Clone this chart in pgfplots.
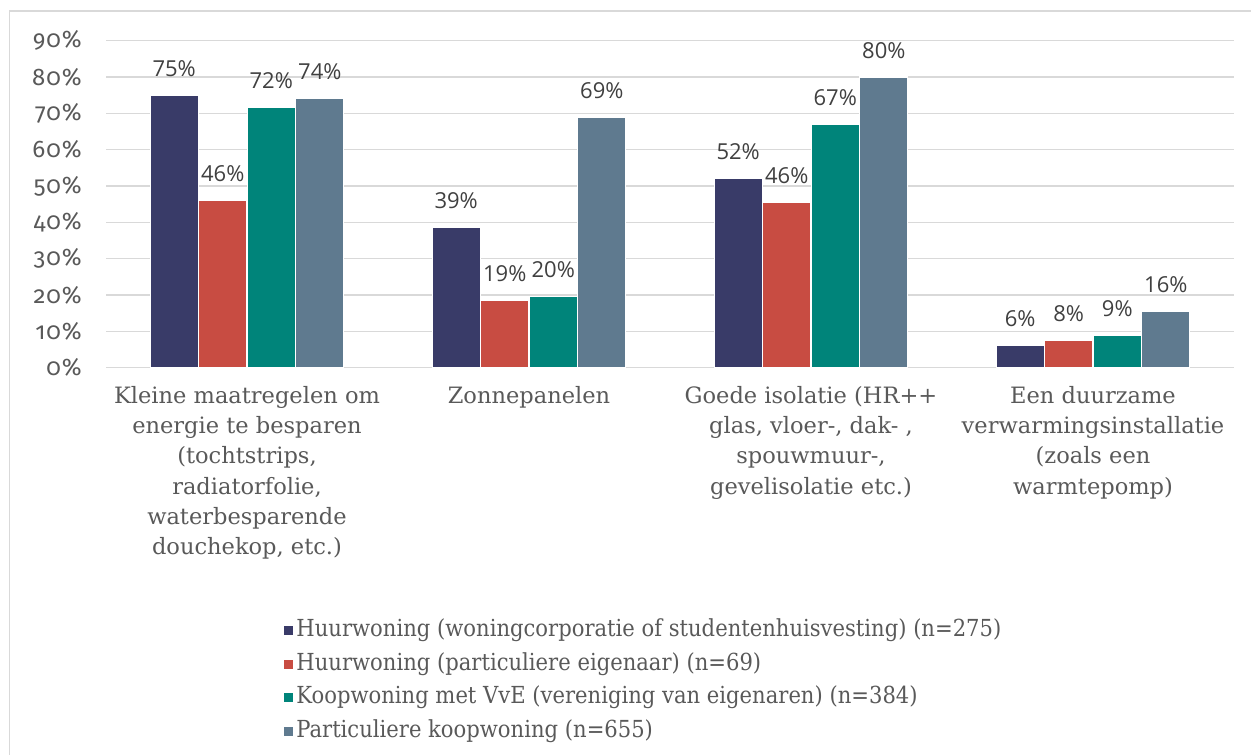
\documentclass[border=0pt]{standalone}
\usepackage{pgfplots}
\pgfplotsset{compat=1.18}
\usepackage{fontspec}
\setmainfont{DejaVu Serif}
\newfontfamily\tickfont[Numbers=OldStyle, LetterSpace=4]{Fira Sans}
\newfontfamily\labfont{Open Sans}
\newfontfamily\legfont{DejaVu Serif Condensed}
\definecolor{cNavy}{HTML}{393B68}
\definecolor{cRed}{HTML}{C84C42}
\definecolor{cTeal}{HTML}{00847A}
\definecolor{cSlate}{HTML}{5F7A8F}
\definecolor{txt}{HTML}{595959}
\definecolor{lab}{HTML}{404040}
\definecolor{gridc}{HTML}{D9D9D9}
\begin{document}
\begin{tikzpicture}
\useasboundingbox (0pt,0pt) rectangle (938.25pt,566.25pt);
\draw[gridc, line width=1.1pt] (7.1pt,0pt) -- (7.1pt,558pt) -- (938.25pt,558pt);
\begin{axis}[
  at={(79.5pt,290.5pt)}, anchor=south west,
  scale only axis, width=846pt, height=245.25pt,
  xmin=-0.5, xmax=3.5, ymin=0, ymax=90,
  clip=false,
  ybar=0.4pt, bar width=36pt,
  separate axis lines,
  axis x line*=bottom, axis y line*=left,
  y axis line style={draw=none},
  x axis line style={gridc, line width=1.1pt},
  ymajorgrids, grid style={gridc, line width=1.1pt},
  major tick length=0pt,
  ytick={0,10,20,30,40,50,60,70,80,90},
  yticklabels={0\%,10\%,20\%,30\%,40\%,50\%,60\%,70\%,80\%,90\%},
  yticklabel style={font=\tickfont\fontsize{18}{18}\selectfont, text=txt, anchor=east, inner sep=0pt, xshift=-18pt},
  xtick={0,1,2,3},
  xticklabels={{Kleine maatregelen om\\energie te besparen\\(tochtstrips,\\radiatorfolie,\\waterbesparende\\douchekop, etc.)},
               {Zonnepanelen},
               {Goede isolatie (HR++\\glas, vloer-, dak- ,\\spouwmuur-,\\gevelisolatie etc.)},
               {Een duurzame\\verwarmingsinstallatie\\(zoals een\\warmtepomp)}},
  xticklabel style={align=center, font=\fontsize{16.9}{22.6}\selectfont, text=txt, anchor=north, inner sep=0pt, yshift=-14pt},
  /pgf/number format/assume math mode=true,
  nodes near coords={\pgfmathprintnumber[fixed,precision=0]{\pgfplotspointmeta}\%},
  nodes near coords style={font=\labfont\fontsize{16.5}{17}\selectfont, text=lab, anchor=base, inner sep=0pt, yshift=14.2pt},
  legend image code/.code={\fill[#1] (0pt,-3.75pt) rectangle (7.5pt,3.75pt);},
  legend cell align=left,
  legend style={at={(0.157,-0.762)}, anchor=north west, draw=none, fill=none,
    font=\legfont\fontsize{17.6}{17.6}\selectfont, text=txt, inner sep=0pt, row sep=5.25pt,
    nodes={text height=13pt, text depth=4pt, inner sep=1.5pt}},
]
\addplot[fill=cNavy, draw=white, line width=0.8pt] coordinates {(0,75) (1,38.6) (2,52) (3,6.2)};
\addplot[fill=cRed, draw=white, line width=0.8pt] coordinates {(0,46) (1,18.6) (2,45.6) (3,7.6)};
\addplot[fill=cTeal, draw=white, line width=0.8pt] coordinates {(0,71.6) (1,19.6) (2,67) (3,8.9)};
\addplot[fill=cSlate, draw=white, line width=0.8pt] coordinates {(0,74) (1,68.8) (2,80) (3,15.6)};
\legend{Huurwoning (woningcorporatie of studentenhuisvesting) (n=275),
        Huurwoning (particuliere eigenaar) (n=69),
        Koopwoning met VvE (vereniging van eigenaren) (n=384),
        Particuliere koopwoning (n=655)}
\end{axis}
\end{tikzpicture}
\end{document}
